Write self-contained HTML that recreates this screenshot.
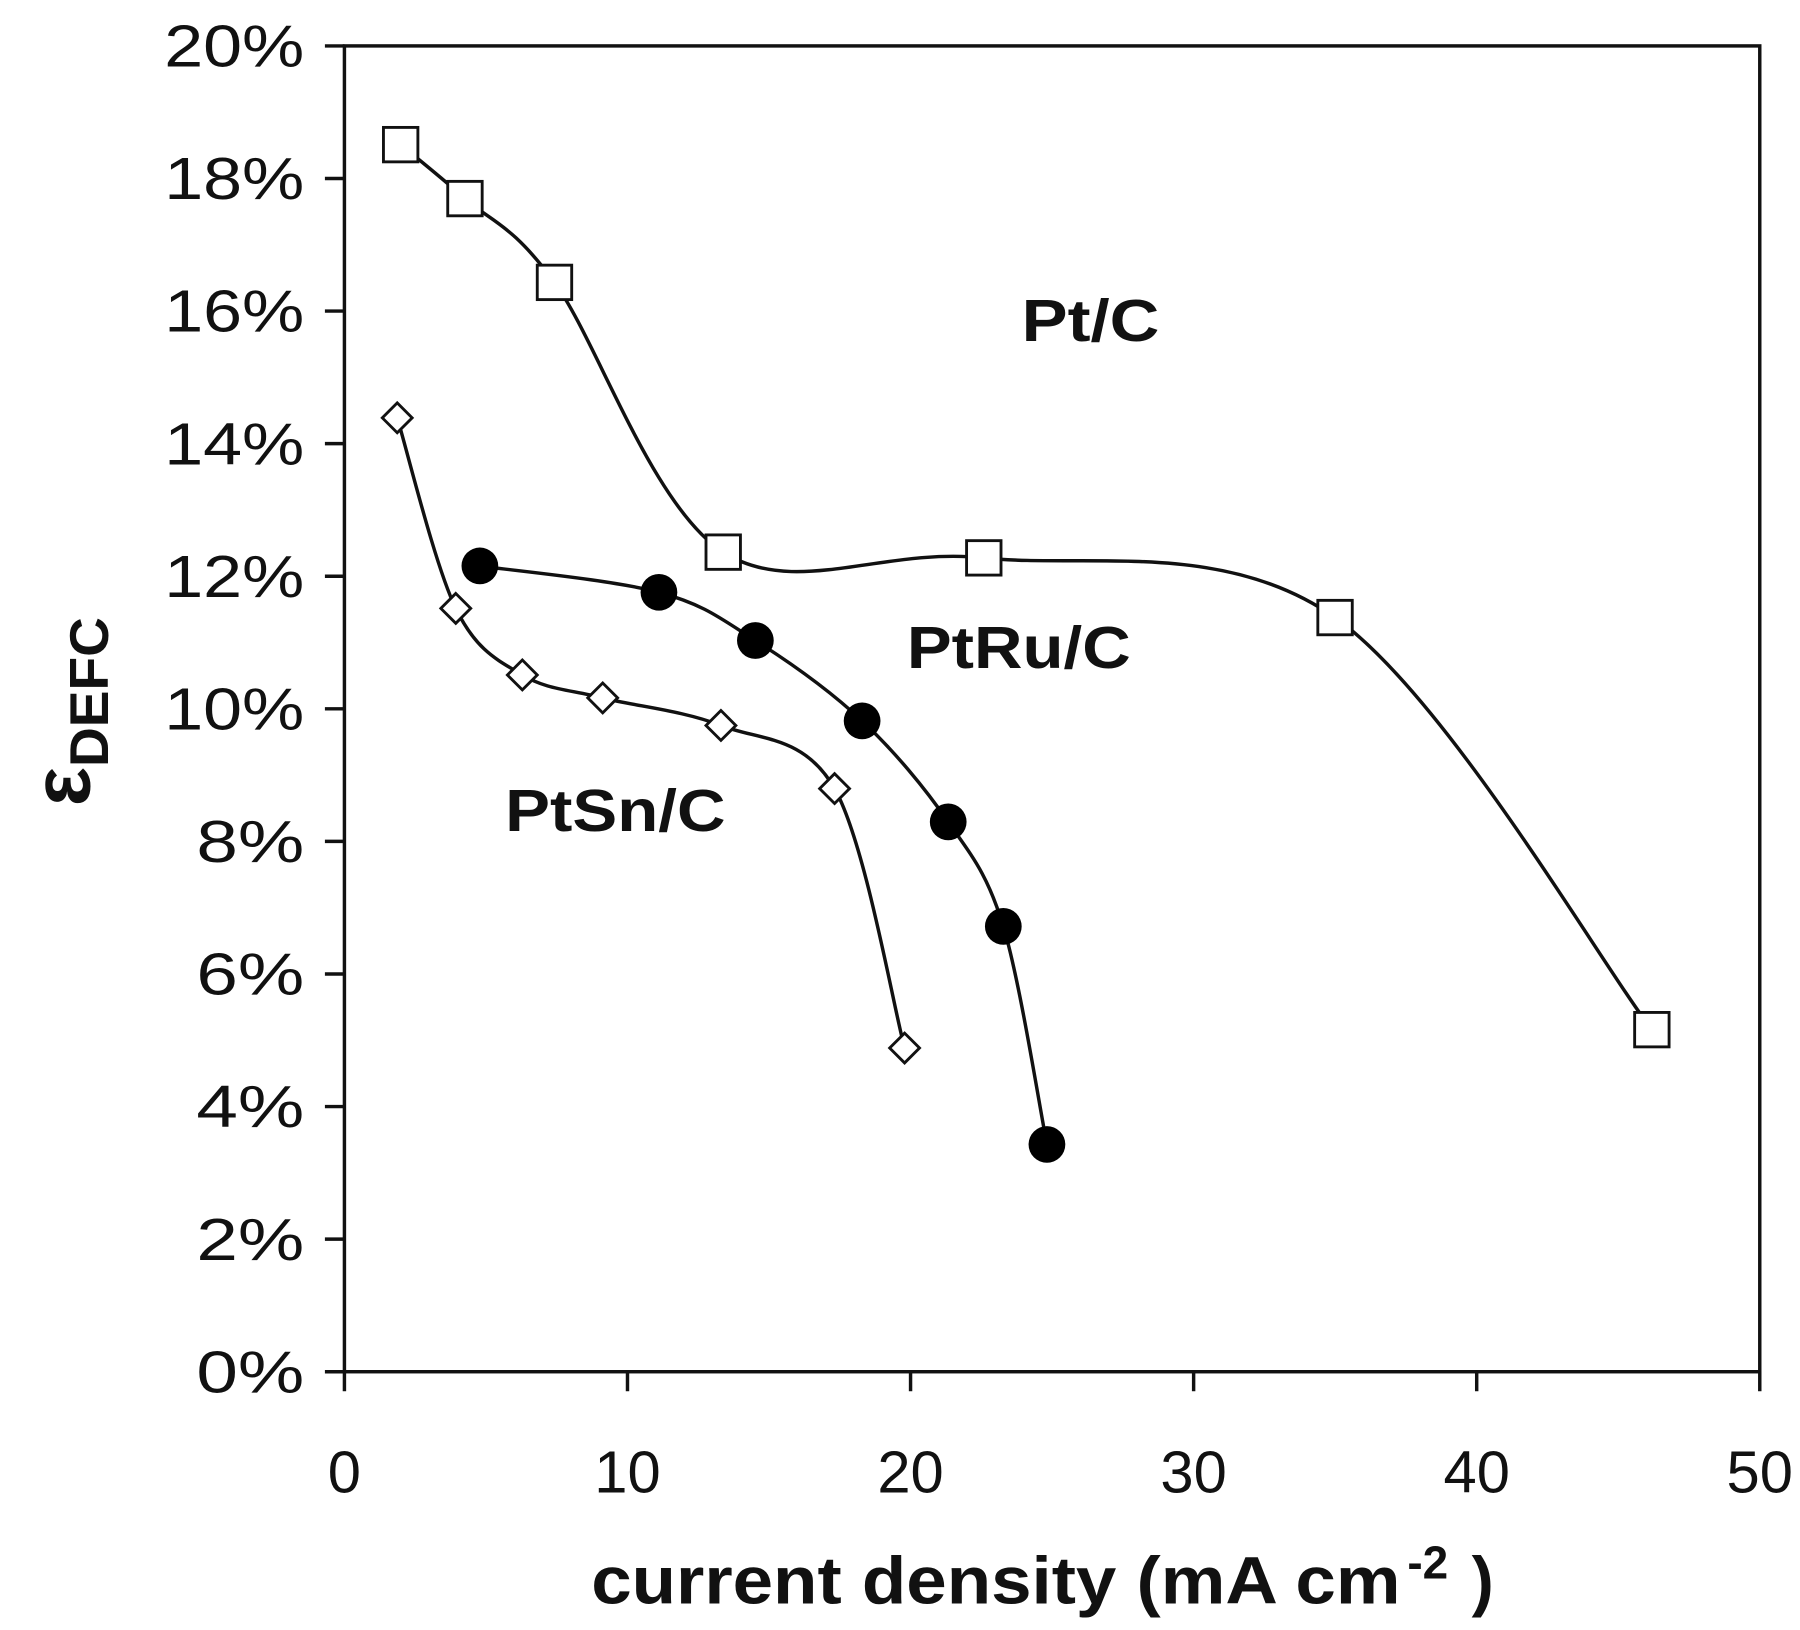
<!DOCTYPE html>
<html><head><meta charset="utf-8"><style>
html,body{margin:0;padding:0;background:#fff;}
svg{display:block;}
text{font-family:"Liberation Sans",sans-serif;fill:#111;}
</style></head><body>
<svg id="s" width="1800" height="1630" viewBox="0 0 1568 1420" xmlns="http://www.w3.org/2000/svg">
<rect x="300" y="40" width="1233" height="1155" fill="none" stroke="#111" stroke-width="3"/>
<g id="ticks" stroke="#111" stroke-width="3"></g>
<g id="lbl" fill="#111"></g>
<text x="515" y="1397" font-size="58" font-weight="bold" textLength="705" lengthAdjust="spacingAndGlyphs">current density (mA cm</text>
<text x="1226" y="1375" font-size="40" font-weight="bold">-2</text>
<text x="1282" y="1397" font-size="58" font-weight="bold">)</text>
<text transform="translate(78,620) rotate(-90)" font-size="72" font-weight="bold" text-anchor="middle">ε<tspan font-size="48" dy="16">DEFC</tspan></text>
<text x="890" y="297" font-size="52" font-weight="bold" textLength="120" lengthAdjust="spacingAndGlyphs">Pt/C</text>
<text x="790" y="582" font-size="52" font-weight="bold" textLength="195" lengthAdjust="spacingAndGlyphs">PtRu/C</text>
<text x="440" y="724" font-size="52" font-weight="bold" textLength="192" lengthAdjust="spacingAndGlyphs">PtSn/C</text>
<g id="curves" fill="none" stroke="#111" stroke-width="3"></g>
<g id="marks"></g>
</svg>
<script>
var NS="http://www.w3.org/2000/svg";
function el(t,a,p){var e=document.createElementNS(NS,t);for(var k in a)e.setAttribute(k,a[k]);document.getElementById(p).appendChild(e);return e;}
for(var i=0;i<=10;i++){var y=1195-i*115.5;el("line",{x1:283,y1:y,x2:300,y2:y},"ticks");
var t=el("text",{x:265,y:y+18,"text-anchor":"end","font-size":52,textLength:(i>=5?122:94),lengthAdjust:"spacingAndGlyphs"},"lbl");t.textContent=(2*i)+"%";}
for(var i=0;i<=5;i++){var x=300+i*246.6;el("line",{x1:x,y1:1195,x2:x,y2:1212},"ticks");
var t=el("text",{x:x,y:1300,"text-anchor":"middle","font-size":52},"lbl");t.textContent=(10*i);}
function path(p){var d="M"+p[0][0]+","+p[0][1];for(var i=0;i<p.length-1;i++){var p0=p[i-1]||p[i],p1=p[i],p2=p[i+1],p3=p[i+2]||p2;
d+=" C"+(p1[0]+(p2[0]-p0[0])/6)+","+(p1[1]+(p2[1]-p0[1])/6)+" "+(p2[0]-(p3[0]-p1[0])/6)+","+(p2[1]-(p3[1]-p1[1])/6)+" "+p2[0]+","+p2[1];}
el("path",{d:d},"curves");}
var pt=[[349,126],[405,173],[483,246],[630,481],[857,486],[1163,538],[1439,897]];
var ru=[[418,493],[574,516],[658,558],[751,628],[826,716],[874,807],[912,997]];
var sn=[[346,364],[397,530],[455,588],[525,608],[628,632],[727,687],[788,913]];
path(pt);path(ru);path(sn);
pt.forEach(function(p){el("rect",{x:p[0]-15,y:p[1]-15,width:30,height:30,fill:"#fff",stroke:"#111","stroke-width":2.5},"marks");});
ru.forEach(function(p){el("circle",{cx:p[0],cy:p[1],r:16,fill:"#000"},"marks");});
sn.forEach(function(p){var x=p[0],y=p[1];el("polygon",{points:(x)+","+(y-13)+" "+(x+13)+","+y+" "+x+","+(y+13)+" "+(x-13)+","+y,fill:"#fff",stroke:"#111","stroke-width":2.5},"marks");});
</script>
</body></html>
